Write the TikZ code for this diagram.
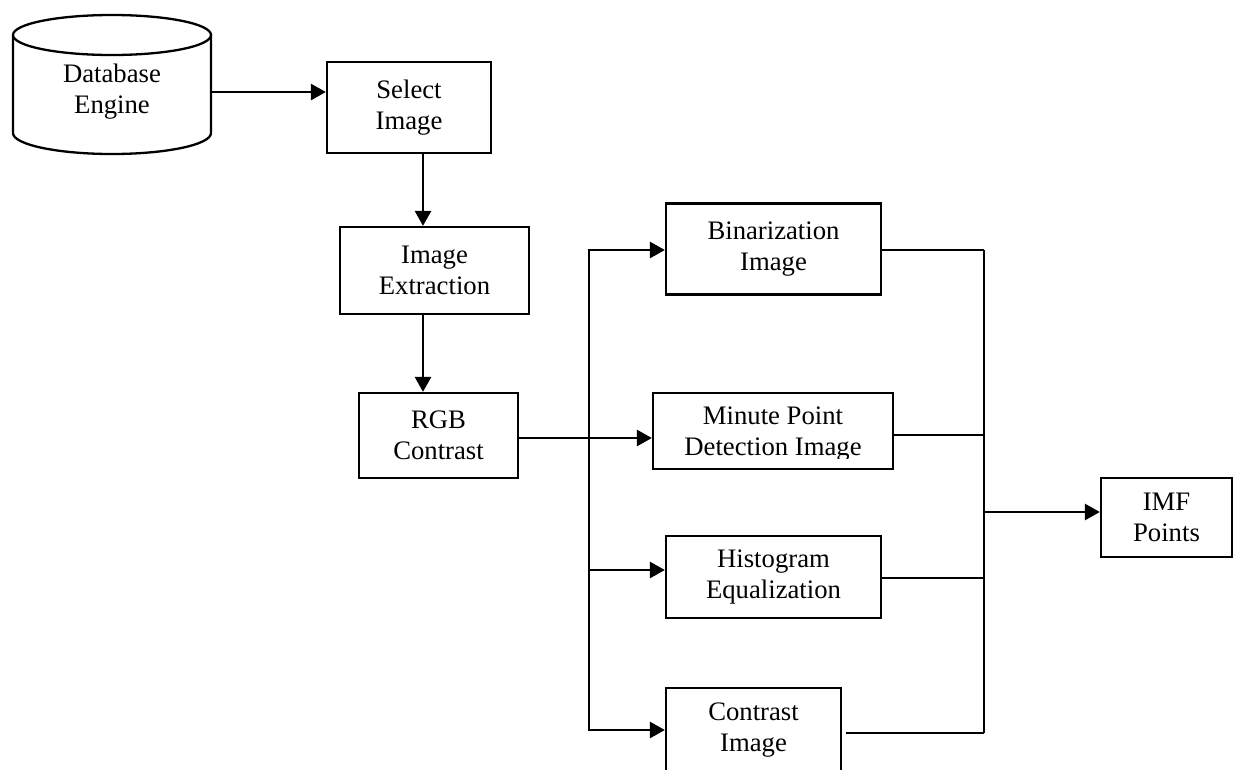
\documentclass[tikz,border=0pt]{standalone}
\usepackage{fontspec}
\setmainfont{Liberation Serif}
\usetikzlibrary{arrows.meta,calc}
\begin{document}
\begin{tikzpicture}[x=1pt,y=-1pt,
  txt/.style={font=\fontsize{26.7}{31}\selectfont, align=center, inner sep=0pt},
  box/.style={txt, draw, line width=2.3pt},
  conn/.style={line width=2.8pt},
  arr/.style={conn, -{Triangle[length=15pt,width=16pt]}},
  busline/.style={line width=2.3pt}]
\useasboundingbox (0,0) rectangle (1233,769);
% cylinder
\draw[line width=2.3pt] (112,35) ellipse [x radius=99pt, y radius=20pt];
\draw[line width=2.3pt] (13,35) -- (13,133) arc[start angle=180, end angle=360, x radius=99pt, y radius=21pt] -- (211,35);
\node[txt, minimum width=198pt] (db) at (112,92) {Database\\Engine};
% boxes
\node[box, minimum width=164pt, minimum height=91pt] (sel) at (409,107.5) {Select\\Image};
\node[box, minimum width=189pt, minimum height=87pt] (ext) at (434.5,270.5) {Image\\Extraction};
\node[box, minimum width=159pt, minimum height=85pt] (rgb) at (438.5,435.5) {RGB\\Contrast};
\node[box, minimum width=215pt, minimum height=91pt] (bin) at (773.5,249) {Binarization\\Image};
\node[box, minimum width=240pt, minimum height=76pt] (min) at (773,431) {};
\begin{scope}
\clip (653,393) rectangle (893,458);
\node[txt] (mintext) at (773,434.5) {Minute Point\\Detection Image};
\end{scope}
\node[box, minimum width=215pt, minimum height=82pt] (hist) at (773.5,577) {Histogram\\Equalization};
\node[box, minimum width=175pt, minimum height=84pt] (con) at (753.5,730) {Contrast\\Image};
\node[box, minimum width=131pt, minimum height=79pt] (imf) at (1166.5,517.5) {IMF\\Points};
% connectors
\draw[arr] (db.east) -- (db.east -| sel.west);
\draw[arr] ([xshift=14pt]sel.south) -- ([xshift=14pt]sel.south |- ext.north);
\draw[arr] ([xshift=-11.5pt]ext.south) -- ([xshift=-11.5pt]ext.south |- rgb.north);
\draw[arr] ([yshift=-2.5pt]rgb.east) -- ([yshift=-2.5pt]rgb.east -| min.west);
% left bus
\coordinate (ltop) at (589,250);
\coordinate (lmid) at (589,570);
\coordinate (lbot) at (589,730);
\draw[conn] (ltop) -- (lbot);
\draw[arr] ([xshift=-1.4pt]ltop) -- (ltop -| bin.west);
\draw[arr] (lmid) -- (lmid -| hist.west);
\draw[arr] ([xshift=-1.4pt]lbot) -- (lbot -| con.west);
% right bus
\coordinate (rtop) at (984,250);
\coordinate (rmin) at (984,435);
\coordinate (rhist) at (984,578);
\coordinate (rbot) at (984,733);
\coordinate (rimf) at (984,512);
\draw[busline] (rtop) -- (rbot);
\draw[busline] (bin.east |- rtop) -- (rtop);
\draw[busline] (min.east |- rmin) -- (rmin);
\draw[busline] (hist.east |- rhist) -- (rhist);
\draw[busline] ([xshift=4pt]con.east |- rbot) -- (rbot);
\draw[arr] (rimf) -- (rimf -| imf.west);
\end{tikzpicture}
\end{document}
